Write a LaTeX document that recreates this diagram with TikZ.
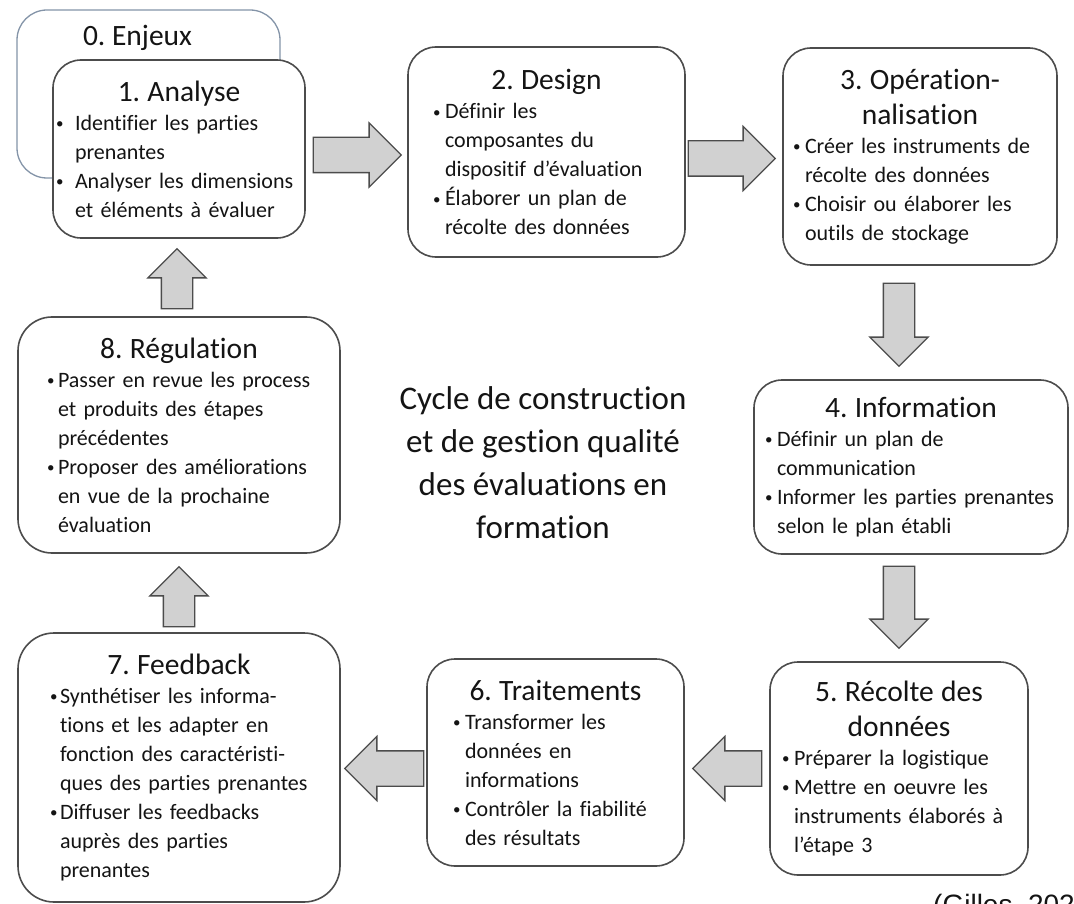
\documentclass[tikz,border=0pt]{standalone}
\usepackage{fontspec}
\setmainfont{Carlito}[Ligatures=NoCommon]
\newfontfamily\sourcefont{Liberation Sans}
\usetikzlibrary{shapes.arrows,calc}
\definecolor{bordbleu}{HTML}{8494A8}
\setlength{\parindent}{0pt}
\frenchspacing
\newcommand{\titre}[1]{{\centering\fontsize{29.5}{35}\selectfont #1\par}}
\newcommand{\puce}[2][12pt]{{\hangindent=#1\hangafter=1\noindent\makebox[#1][l]{\raisebox{1.5pt}{\fontsize{15}{15}\selectfont•}}#2\par}}

\begin{document}
\begin{tikzpicture}[x=1pt,y=-1pt,every node/.style={text=black!92},
etape/.style={draw=black!70,line width=1.6pt,rounded corners=28pt,fill=white,align=left,inner sep=2pt,font=\fontsize{22}{29}\selectfont},
fleche/.style={single arrow,draw=black!70,fill=black!18,line width=1.3pt,inner xsep=0pt,single arrow tip angle=90,anchor=tip},
flecheh/.style={fleche,inner ysep=17pt,single arrow head extend=14.5pt},
flechev/.style={fleche,inner ysep=15pt,single arrow head extend=13.5pt}
]
\path[fill=white] (0,0) rectangle (1074,904);
\useasboundingbox (0,0) rectangle (1074,904);

\node[etape,draw=bordbleu,line width=1.3pt,rounded corners=30pt,minimum width=263pt,minimum height=168pt] (b0) at (148.5,94) {};
\node[font=\fontsize{29.5}{35}\selectfont] (t0) at (137.5,38) {0. Enjeux};
\node[etape,minimum width=252pt,minimum height=178pt,text width=246pt] (b1) at (179,149)
{\titre{1. Analyse}\puce[19pt]{Identifier les parties\newline prenantes}\puce[19pt]{Analyser les dimensions\newline et éléments à évaluer}}; % <- end analyse
\node[etape,minimum width=277pt,minimum height=210pt,text width=227pt] (b2) at (546.5,152)
{\titre{2. Design}\puce{Définir les\newline composantes du\newline dispositif d’évaluation}\puce{Élaborer un plan de\newline récolte des données}}; % <- end design
\node[etape,minimum width=274pt,minimum height=217pt,text width=254pt] (b3) at (920,156.5)
{\titre{3. Opération-\\nalisation}\puce{Créer les instruments de\newline récolte des données}\puce{Choisir ou élaborer les\newline outils de stockage}}; % <- end operationnalisation
\node[etape,minimum width=314pt,minimum height=174pt,text width=292pt] (b4) at (911,467)
{\titre{4. Information}\puce{Définir un plan de\newline communication}\puce{Informer les parties prenantes\newline selon le plan établi}}; % <- end information
\node[etape,minimum width=258pt,minimum height=213pt,text width=234pt] (b5) at (899,768.5)
{\titre{5. Récolte des\\données}\puce{Préparer la logistique}\puce{Mettre en oeuvre les\newline instruments élaborés à\newline l’étape 3}}; % <- end recolte
\node[etape,minimum width=257pt,minimum height=207pt,text width=205pt] (b6) at (555.5,762.5)
{\titre{6. Traitements}\puce{Transformer les\newline données en\newline informations}\puce{Contrôler la fiabilité\newline des résultats}}; % <- end traitements
\node[etape,rounded corners=36pt,minimum width=322pt,minimum height=269pt,text width=258pt] (b7) at (179,767.5)
{\titre{7. Feedback}\puce[10pt]{Synthétiser les informa-\newline tions et les adapter en\newline fonction des caractéristi-\newline ques des parties prenantes}\puce[10pt]{Diffuser les feedbacks\newline auprès des parties\newline prenantes}}; % <- end feedback
\node[etape,rounded corners=34pt,minimum width=322pt,minimum height=236pt,text width=264pt] (b8) at (179,435)
{\titre{8. Régulation}\puce[11pt]{Passer en revue les process\newline et produits des étapes\newline précédentes}\puce[11pt]{Proposer des améliorations\newline en vue de la prochaine\newline évaluation}}; % <- end regulation

\node[align=center,font=\fontsize{33}{43}\selectfont] (cycle) at (543,463) {Cycle de construction\\et de gestion qualité\\des évaluations en\\formation};
\node[anchor=base west,inner sep=0pt,font=\sourcefont\fontsize{28}{30}\selectfont] (source) at (933,914) {(Gilles, 202};

\node[flecheh,minimum height=88pt] (f12) at ($(b2.west)+(-5,3)$) {};
\node[flecheh,minimum height=87pt] (f23) at ($(b3.west)+(-6,2)$) {};
\node[flechev,rotate=-90,minimum height=83pt] (f34) at ($(b4.north)+(-12,-12)$) {};
\node[flechev,rotate=-90,minimum height=82pt] (f45) at ($(b5.north)+(0,-12)$) {};
\node[flecheh,rotate=180,minimum height=69pt] (f56) at ($(b6.east)+(7,6)$) {};
\node[flecheh,rotate=180,minimum height=79pt] (f67) at ($(b7.east)+(3,1)$) {};
\node[flechev,rotate=90,minimum height=60pt] (f78) at ($(b8.south)+(0,12)$) {};
\node[flechev,rotate=90,minimum height=60pt] (f81) at ($(b1.south)+(-2,9)$) {};
\end{tikzpicture}
\end{document}
